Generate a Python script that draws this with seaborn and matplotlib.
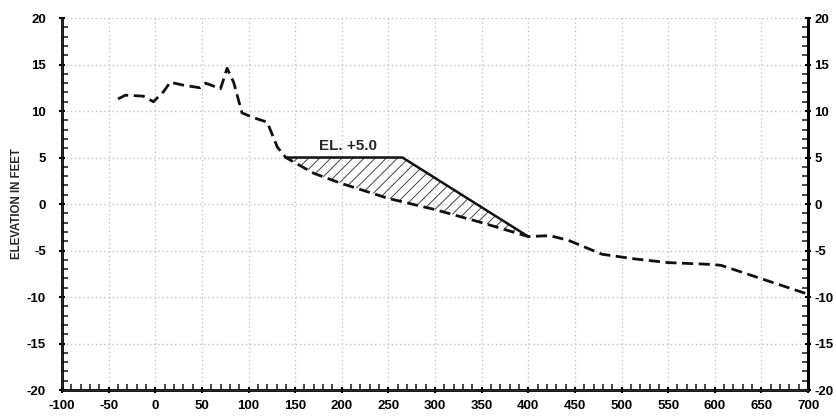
import numpy as np
import pandas as pd
import matplotlib
matplotlib.use('Agg')
import matplotlib.pyplot as plt
from matplotlib.ticker import MultipleLocator
import seaborn as sns

# existing ground profile (station ft, elevation ft)
ground_x = [-40, -32, -13, -2, 9, 16, 29, 48, 54, 70, 77, 84, 93, 105, 120, 131,
            140, 170, 200, 250, 300, 350, 400, 423, 443, 479, 514, 550, 597, 607, 700]
ground_y = [11.3, 11.7, 11.6, 11.0, 12.1, 13.1, 12.8, 12.5, 13.0, 12.4, 14.6, 13.1,
            9.8, 9.3, 8.8, 6.1, 5.0, 3.3, 2.2, 0.6, -0.6, -2.0, -3.5, -3.4, -3.9,
            -5.4, -5.9, -6.3, -6.5, -6.6, -9.7]

# proposed fill section
crest_x = [140, 265, 400]
crest_y = [5.0, 5.0, -3.5]
crest_label = 'EL. +5.0'

ground = pd.DataFrame({'station': ground_x, 'elev': ground_y})

sns.set_style('white')
plt.rcParams['font.family'] = ['Liberation Sans', 'DejaVu Sans']
plt.rcParams['axes.unicode_minus'] = False
plt.rcParams['hatch.linewidth'] = 0.7

fig = plt.figure(figsize=(8.37, 4.17), dpi=100)
ax = fig.add_axes([0.0741, 0.0647, 0.8913, 0.8921])

# hatched fill between crest and ground
sub = ground[(ground.station >= crest_x[0]) & (ground.station <= crest_x[-1])]
poly_x = list(crest_x) + list(sub.station[::-1])
poly_y = list(crest_y) + list(sub.elev[::-1])
ax.fill(poly_x, poly_y, facecolor='none', edgecolor='#444444', hatch='///', linewidth=0)

sns.lineplot(data=ground, x='station', y='elev', ax=ax, color='#111111',
             linewidth=2.0, dashes=False, sort=False)
ax.lines[-1].set_dashes([4, 2])
ax.plot(crest_x, crest_y, color='#111111', linewidth=1.8)

ax.text(207, 5.5, crest_label, ha='center', va='bottom', fontsize=11, fontweight='bold')

ax.set_xlim(-100, 700)
ax.set_ylim(-20, 20)
ax.xaxis.set_major_locator(MultipleLocator(50))
ax.xaxis.set_minor_locator(MultipleLocator(10))
ax.yaxis.set_major_locator(MultipleLocator(5))
ax.yaxis.set_minor_locator(MultipleLocator(1))

ax.grid(True, which='major', color='#c4c4c4', linestyle=(0, (1, 2)), linewidth=1.0)
ax.set_axisbelow(True)

for s in ['left', 'right', 'bottom']:
    ax.spines[s].set_color('black')
    ax.spines[s].set_linewidth(2)
ax.spines['top'].set_visible(False)

ax.tick_params(axis='both', which='major', direction='inout', length=5, width=1.5,
               labelsize=9.5, colors='black')
ax.tick_params(axis='x', which='major', pad=5)
ax.tick_params(axis='y', which='major', pad=9)
ax.tick_params(axis='both', which='minor', direction='in', length=4, width=1.2)
ax.tick_params(axis='y', which='both', left=True, right=False)
ax.tick_params(axis='x', which='both', bottom=True, top=False)
for lab in ax.get_xticklabels() + ax.get_yticklabels():
    lab.set_fontweight('bold')

# right-hand elevation scale
ax2 = ax.twinx()
ax2.set_ylim(-20, 20)
ax2.yaxis.set_major_locator(MultipleLocator(5))
ax2.yaxis.set_minor_locator(MultipleLocator(1))
ax2.spines['top'].set_visible(False)
ax2.spines['right'].set_color('black')
ax2.spines['right'].set_linewidth(2)
ax2.tick_params(axis='y', which='major', direction='inout', length=5, width=1.5,
                labelsize=9.5, colors='black', pad=2)
ax2.tick_params(axis='y', which='minor', direction='in', length=4, width=1.2)
for lab in ax2.get_yticklabels():
    lab.set_fontweight('bold')
ax2.grid(False)

ax.set_xlabel('')
ax.set_ylabel('ELEVATION IN FEET', fontsize=8.3, fontweight='bold')
ax.yaxis.set_label_coords(-0.052, 0.5)

fig.savefig('out.png', dpi=100)
